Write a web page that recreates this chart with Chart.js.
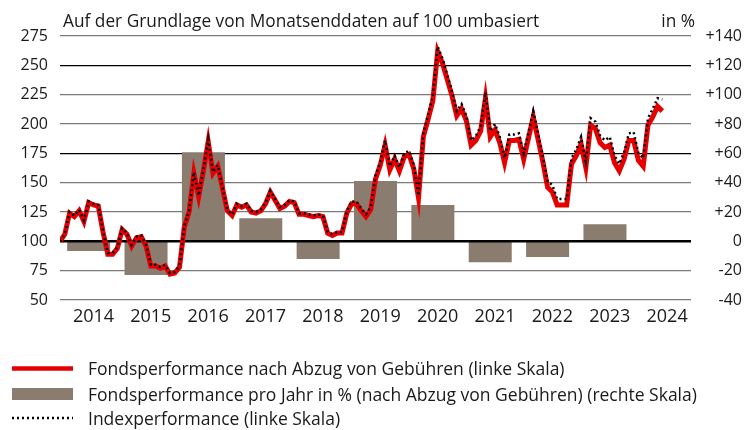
<!DOCTYPE html>
<html lang="de">
<head>
<meta charset="utf-8">
<title>Fondsperformance</title>
<script src="https://cdn.jsdelivr.net/npm/chart.js@4/dist/chart.umd.min.js"></script>
<style>
    html, body { margin: 0; padding: 0; background: #fff; }
    #wrap { width: 755px; height: 430px; }
</style>
</head>
<body>
<div id="wrap"><canvas id="chart" width="755" height="430"></canvas></div>
<script>
(function () {
    'use strict';

    // month index 0 = Dezember 2013 (Basis 100), one value per month end
    var fundValues = [
        100, 106, 124, 121, 126, 117, 133, 131, 130, 108, 89, 89,
        94, 110, 106, 96, 103, 104, 96, 79, 79, 77, 79, 72,
        73, 78, 112, 125, 158, 138, 160, 185, 158, 164, 145, 126,
        122, 131, 129, 131, 125, 124, 126, 132, 142, 135, 128, 130,
        134, 133, 123, 123, 122, 121, 122, 121, 107, 105, 107, 107,
        124, 132, 132, 126, 121, 127, 153, 165, 182, 161, 170, 160,
        172, 174, 162, 137, 189, 204, 220, 262, 252, 238, 224, 207,
        213, 203, 182, 186, 194, 222, 189, 195, 184, 167, 186, 186,
        187, 170, 188, 206, 187, 168, 146, 142, 131, 131, 131, 166,
        173, 183, 163, 199, 196, 184, 180, 182, 167, 160, 170, 186,
        186, 169, 164, 199, 206, 215, 211
    ];
    var indexValues = [
        100, 106, 125, 122, 127, 118, 134, 132, 131, 109, 90, 90,
        95, 111, 107, 97, 104, 105, 97, 80, 80, 78, 80, 73,
        74, 79, 113, 126, 159, 139, 161, 187, 159, 165, 146, 127,
        123, 132, 130, 132, 126, 125, 127, 133, 143, 136, 129, 131,
        135, 134, 124, 124, 123, 122, 123, 122, 108, 106, 108, 108,
        126, 134, 134, 128, 123, 129, 156, 168, 186, 164, 173, 163,
        175, 177, 165, 139, 192, 208, 224, 266, 256, 242, 228, 211,
        217, 207, 186, 190, 198, 227, 194, 200, 189, 171, 191, 191,
        192, 175, 193, 211, 192, 173, 151, 148, 136, 136, 136, 171,
        178, 189, 168, 205, 202, 190, 186, 189, 173, 166, 176, 192,
        193, 175, 171, 205, 213, 222, 221
    ];

    var barYears = [2014, 2015, 2016, 2017, 2018, 2019, 2020, 2021, 2022, 2023];
    var barValues = [-6.6, -23, 60.8, 15.8, -12.1, 41.1, 24.7, -14.2, -10.7, 11.6];

    var yearLabels = ['2014', '2015', '2016', '2017', '2018', '2019', '2020', '2021', '2022', '2023', '2024'];

    var titleText = 'Auf der Grundlage von Monatsenddaten auf 100 umbasiert';
    var unitText = 'in %';
    var legendLabels = [
        'Fondsperformance nach Abzug von Gebühren (linke Skala)',
        'Fondsperformance pro Jahr in % (nach Abzug von Gebühren) (rechte Skala)',
        'Indexperformance (linke Skala)'
    ];

    var RED = '#e60000';
    var BAR = '#8a7d6f';
    var TEXT = '#1a1a1a';
    var TEXT_FONT = '"Open Sans", "Noto Sans", sans-serif';

    function toPoints(values) {
        var out = [];
        for (var i = 0; i < values.length; i++) {
            out.push({ x: i, y: values[i] });
        }
        return out;
    }

    var barPoints = [];
    for (var b = 0; b < barYears.length; b++) {
        barPoints.push({ x: (barYears[b] - 2013) * 12 - 6, y: barValues[b] });
    }

    // thick 100 line sits above the bars but under the lines
    var baseLine = {
        id: 'baseLine',
        afterDatasetDraw: function (chart, args) {
            if (args.index !== 0) {
                return;
            }
            var ctx = chart.ctx;
            var area = chart.chartArea;
            var y = chart.scales.y.getPixelForValue(100);
            ctx.save();
            ctx.strokeStyle = '#000';
            ctx.lineWidth = 2.5;
            ctx.beginPath();
            ctx.moveTo(area.left, y);
            ctx.lineTo(area.right, y);
            ctx.stroke();
            ctx.restore();
        }
    };

    var texts = {
        id: 'texts',
        afterDraw: function (chart) {
            var ctx = chart.ctx;
            ctx.save();
            ctx.fillStyle = TEXT;
            ctx.font = '17.3px ' + TEXT_FONT;
            ctx.textBaseline = 'alphabetic';
            ctx.textAlign = 'left';
            ctx.fillText(titleText, 63, 26.5);
            ctx.textAlign = 'right';
            ctx.fillText(unitText, 695, 26.5);

            // legend
            var x0 = 12, x1 = 73, tx = 88;
            var rows = [368.5, 394, 418];
            ctx.strokeStyle = RED;
            ctx.lineWidth = 4.5;
            ctx.beginPath();
            ctx.moveTo(x0, rows[0]);
            ctx.lineTo(x1, rows[0]);
            ctx.stroke();

            ctx.fillStyle = BAR;
            ctx.fillRect(x0, rows[1] - 6, x1 - x0, 12);

            ctx.strokeStyle = '#000';
            ctx.lineWidth = 2.5;
            ctx.setLineDash([2, 3]);
            ctx.beginPath();
            ctx.moveTo(x0, rows[2]);
            ctx.lineTo(x1, rows[2]);
            ctx.stroke();
            ctx.setLineDash([]);

            ctx.fillStyle = TEXT;
            ctx.font = '17.5px ' + TEXT_FONT;
            ctx.textAlign = 'left';
            for (var i = 0; i < legendLabels.length; i++) {
                ctx.fillText(legendLabels[i], tx, rows[i] + 6.5);
            }
            ctx.restore();
        }
    };

    new Chart(document.getElementById('chart'), {
        type: 'line',
        data: {
            datasets: [{
                type: 'bar',
                label: legendLabels[1],
                data: barPoints,
                yAxisID: 'y1',
                backgroundColor: BAR,
                borderWidth: 0,
                barPercentage: 0.75,
                categoryPercentage: 1,
                order: 3
            }, {
                label: legendLabels[0],
                data: toPoints(fundValues),
                yAxisID: 'y',
                borderColor: RED,
                borderWidth: 5,
                pointRadius: 0,
                tension: 0,
                order: 2
            }, {
                label: legendLabels[2],
                data: toPoints(indexValues),
                yAxisID: 'y',
                borderColor: '#000',
                borderWidth: 2.5,
                borderDash: [2, 3],
                borderCapStyle: 'butt',
                pointRadius: 0,
                tension: 0,
                order: 1
            }]
        },
        options: {
            responsive: false,
            animation: false,
            devicePixelRatio: 1,
            layout: { padding: { top: 36, left: 0, right: 13, bottom: 0 } },
            plugins: {
                legend: { display: false },
                tooltip: { enabled: false }
            },
            scales: {
                x: {
                    type: 'linear',
                    min: 0,
                    max: 132,
                    offset: false,
                    afterBuildTicks: function (scale) {
                        scale.ticks = yearLabels.map(function (y, k) {
                            return { value: 12 * k + 7 };
                        });
                    },
                    afterFit: function (scale) {
                        scale.height = 130;
                    },
                    ticks: {
                        autoSkip: false,
                        maxRotation: 0,
                        padding: 6,
                        color: TEXT,
                        font: { family: TEXT_FONT, size: 18 },
                        callback: function (value, index) {
                            return yearLabels[index];
                        }
                    },
                    grid: { display: false, drawTicks: false },
                    border: { display: false }
                },
                y: {
                    position: 'left',
                    min: 50,
                    max: 275,
                    afterFit: function (scale) {
                        scale.width = 60;
                    },
                    ticks: {
                        stepSize: 25,
                        padding: 12,
                        color: TEXT,
                        font: { family: TEXT_FONT, size: 16 }
                    },
                    grid: {
                        drawTicks: false,
                        lineWidth: 1.2,
                        color: function (c) {
                            var v = c.tick ? c.tick.value : null;
                            if (v === 100) {
                                return 'rgba(0,0,0,0)';
                            }
                            if (v === 175 || v === 250) {
                                return '#000';
                            }
                            return '#7a7a7a';
                        }
                    },
                    border: { display: false }
                },
                y1: {
                    position: 'right',
                    min: -40,
                    max: 140,
                    afterFit: function (scale) {
                        scale.width = 51;
                    },
                    ticks: {
                        stepSize: 20,
                        padding: 4,
                        crossAlign: 'far',
                        color: TEXT,
                        font: { family: TEXT_FONT, size: 16 },
                        callback: function (value) {
                            return value > 0 ? '+' + value : String(value);
                        }
                    },
                    grid: { display: false, drawTicks: false },
                    border: { display: false }
                }
            }
        },
        plugins: [baseLine, texts]
    });
})();
</script>
</body>
</html>
